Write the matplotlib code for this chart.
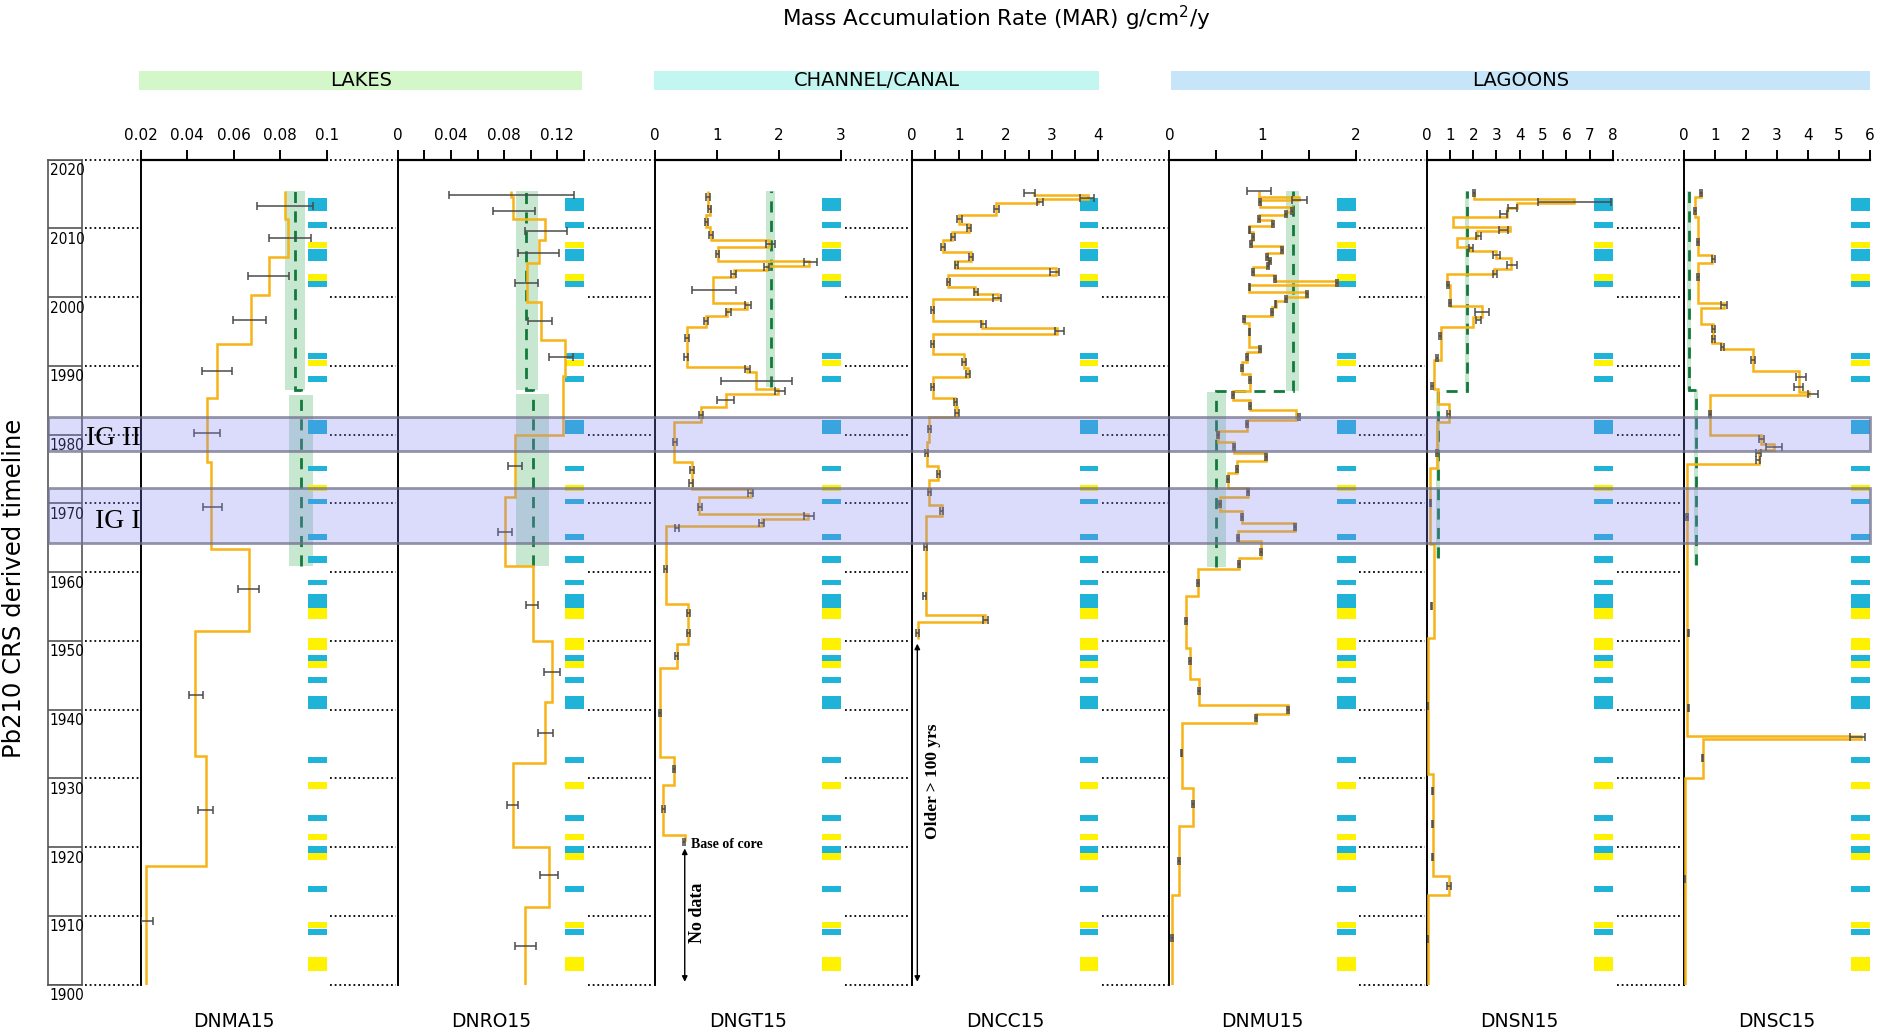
import numpy as np
import matplotlib.pyplot as plt
from matplotlib.patches import Rectangle
from matplotlib.lines import Line2D
from matplotlib.transforms import blended_transform_factory

# ---------------- data: years (vertical) and MAR in g/cm2/y (horizontal) ----------------
cores = ['DNMA15', 'DNRO15', 'DNGT15', 'DNCC15', 'DNMU15', 'DNSN15', 'DNSC15']
decades = [1900, 1910, 1920, 1930, 1940, 1950, 1960, 1970, 1980, 1990, 2000, 2010, 2020]

# step profiles: edges are years (top -> bottom), one MAR value per interval
dnma_edges = [2015.4, 2011.4, 2005.8, 2000.3, 1993.2, 1985.3, 1976.0, 1963.4, 1951.4, 1933.3, 1917.3, 1900.0]
dnma_mar = [0.0820, 0.0832, 0.0752, 0.0673, 0.0527, 0.0486, 0.0505, 0.0665, 0.0433, 0.0482, 0.0224]
dnma_err_year = [2013.2, 2008.6, 2003.1, 1996.7, 1989.3, 1980.3, 1969.5, 1957.5, 1942.1, 1925.4, 1909.2]
dnma_err_mar = [0.0822, 0.0843, 0.0750, 0.0670, 0.0528, 0.0486, 0.0510, 0.0665, 0.0437, 0.0480, 0.0228]
dnma_err = [0.0120, 0.0091, 0.0090, 0.0071, 0.0064, 0.0055, 0.0042, 0.0044, 0.0030, 0.0033, 0.0024]

dnro_edges = [2015.5, 2014.5, 2011.3, 2008.3, 2004.9, 1999.3, 1993.8, 1988.5, 1980.0, 1971.0, 1960.9,
              1950.0, 1941.1, 1932.3, 1920.0, 1911.3, 1900.0]
dnro_mar = [0.0850, 0.0867, 0.1110, 0.1060, 0.0974, 0.1075, 0.1256, 0.1240, 0.0880, 0.0807, 0.1014,
            0.1158, 0.1110, 0.0864, 0.1138, 0.0960]
dnro_err_year = [2014.9, 2012.6, 2009.6, 2006.4, 2002.0, 1996.5, 1991.3, 1975.5, 1965.9, 1955.2, 1945.4,
                 1936.6, 1926.1, 1915.9, 1905.6]
dnro_err_mar = [0.0856, 0.0876, 0.1115, 0.1060, 0.0968, 0.1070, 0.1227, 0.0880, 0.0807, 0.1008, 0.1158,
                0.1110, 0.0864, 0.1138, 0.0959]
dnro_err = [0.0473, 0.0160, 0.0156, 0.0153, 0.0086, 0.0090, 0.0090, 0.0053, 0.0050, 0.0045, 0.0060,
            0.0058, 0.0040, 0.0065, 0.0080]

dngt_edges = [2015.5, 2013.3, 2011.9, 2010.2, 2009.5, 2008.3, 2007.3, 2005.3, 2004.6, 2004.0, 2002.9,
              1999.1, 1998.3, 1997.3, 1995.6, 1989.9, 1989.1, 1986.7, 1985.9, 1984.0, 1981.8, 1976.0,
              1972.1, 1970.9, 1968.4, 1967.7, 1966.7, 1955.4, 1949.6, 1946.0, 1933.1, 1929.1, 1921.7, 1920.9]
dngt_mar = [0.86, 0.88, 0.83, 0.88, 0.90, 1.84, 1.01, 2.49, 1.80, 1.28, 0.94, 1.49, 1.16, 0.82, 0.52,
            1.49, 1.63, 1.99, 1.14, 0.74, 0.31, 0.60, 1.54, 0.71, 2.46, 1.72, 0.18, 0.54, 0.35, 0.08,
            0.31, 0.135, 0.48]
dngt_err_year = [2014.6, 2012.8, 2010.9, 2009.0, 2007.8, 2006.3, 2005.1, 2004.4, 2003.3, 2001.1, 1998.9,
                 1997.8, 1996.5, 1994.1, 1991.3, 1989.5, 1987.8, 1986.3, 1985.1, 1982.9, 1978.9, 1974.8,
                 1973.0, 1971.5, 1969.5, 1968.1, 1967.2, 1966.4, 1960.5, 1954.1, 1951.2, 1947.8, 1939.5,
                 1931.3, 1925.5, 1920.7]
dngt_err_mar = [0.86, 0.88, 0.83, 0.90, 1.86, 1.01, 2.51, 1.80, 1.26, 0.95, 1.50, 1.18, 0.82, 0.52, 0.50,
                1.49, 1.64, 2.02, 1.14, 0.74, 0.32, 0.60, 0.58, 1.54, 0.72, 2.49, 1.72, 0.36, 0.17, 0.54,
                0.54, 0.35, 0.08, 0.31, 0.135, 0.47]
dngt_err = [0.03, 0.03, 0.03, 0.03, 0.07, 0.03, 0.10, 0.04, 0.04, 0.35, 0.05, 0.04, 0.03, 0.03, 0.03,
            0.04, 0.57, 0.08, 0.14, 0.03, 0.03, 0.03, 0.03, 0.04, 0.03, 0.08, 0.04, 0.03, 0.02, 0.03,
            0.03, 0.02, 0.02, 0.02, 0.02, 0.02]

dncc_edges = [2015.3, 2014.8, 2014.3, 2013.7, 2012.0, 2010.7, 2009.5, 2008.3, 2006.6, 2005.3, 2004.3,
              2003.2, 2001.5, 2000.5, 1999.7, 1996.6, 1995.5, 1994.7, 1991.7, 1989.7, 1988.4, 1985.4,
              1984.0, 1982.5, 1978.9, 1975.5, 1973.4, 1969.7, 1968.2, 1953.7, 1952.7, 1950.2]
dncc_mar = [2.62, 3.78, 2.70, 1.80, 1.01, 1.22, 0.85, 0.66, 1.26, 0.93, 3.08, 0.77, 1.34, 1.84, 0.44,
            1.51, 3.12, 0.44, 1.11, 1.20, 0.44, 0.93, 0.97, 0.37, 0.31, 0.56, 0.37, 0.63, 0.29, 1.57, 0.12]
dncc_err_year = [2015.1, 2014.4, 2013.9, 2012.8, 2011.3, 2010.0, 2008.7, 2007.3, 2005.8, 2004.7, 2003.6,
                 2002.2, 2000.8, 1999.9, 1998.1, 1996.1, 1995.1, 1993.2, 1990.5, 1988.8, 1986.9, 1984.7,
                 1983.1, 1980.8, 1977.3, 1974.3, 1971.6, 1968.9, 1963.6, 1956.5, 1953.1, 1951.2]
dncc_err_mar = [2.52, 3.75, 2.75, 1.81, 1.01, 1.22, 0.87, 0.66, 1.26, 0.95, 3.06, 0.78, 1.37, 1.82, 0.44,
                1.53, 3.16, 0.44, 1.12, 1.20, 0.44, 0.93, 0.97, 0.38, 0.31, 0.56, 0.37, 0.63, 0.29, 0.27,
                1.57, 0.12]
dncc_err = [0.11, 0.15, 0.06, 0.06, 0.05, 0.05, 0.04, 0.04, 0.05, 0.04, 0.10, 0.04, 0.05, 0.08, 0.03,
            0.05, 0.10, 0.03, 0.04, 0.04, 0.03, 0.04, 0.04, 0.03, 0.03, 0.03, 0.03, 0.03, 0.03, 0.03,
            0.05, 0.03]

dnmu_edges = [2015.5, 2014.6, 2014.2, 2013.1, 2012.4, 2011.9, 2011.2, 2010.3, 2009.5, 2008.3, 2007.4,
              2006.4, 2005.6, 2005.1, 2004.4, 2003.2, 2002.4, 2001.8, 2000.7, 2000.0, 1999.5, 1998.5,
              1997.3, 1996.2, 1992.8, 1992.0, 1990.5, 1988.8, 1986.4, 1985.0, 1983.6, 1982.1, 1980.6,
              1979.0, 1977.3, 1976.2, 1974.4, 1972.3, 1970.9, 1968.9, 1967.2, 1966.0, 1964.5, 1962.1,
              1960.4, 1956.6, 1949.0, 1944.5, 1940.6, 1939.4, 1938.0, 1928.6, 1923.0, 1913.1, 1900.0]
dnmu_mar = [0.96, 1.39, 0.97, 1.32, 1.25, 0.96, 1.10, 0.86, 0.90, 0.88, 1.21, 1.05, 1.08, 1.06, 0.90,
            1.13, 1.80, 0.86, 1.48, 1.25, 1.14, 1.10, 0.80, 0.86, 0.97, 0.83, 0.78, 0.87, 0.68, 0.87,
            1.36, 0.83, 0.52, 0.69, 1.04, 0.73, 0.63, 0.84, 0.54, 0.78, 1.35, 0.74, 0.98, 0.75, 0.31,
            0.18, 0.22, 0.32, 1.27, 0.93, 0.13, 0.25, 0.105, 0.03]
dnmu_err_year = [2015.4, 2014.2, 2013.8, 2012.6, 2012.1, 2011.4, 2010.7, 2009.8, 2008.7, 2007.8, 2006.8,
                 2005.9, 2005.2, 2004.6, 2003.6, 2002.7, 2002.0, 2001.5, 2000.4, 1999.8, 1999.0, 1997.8,
                 1996.8, 1994.9, 1992.5, 1991.3, 1989.7, 1988.0, 1985.7, 1984.2, 1982.6, 1981.5, 1980.0,
                 1978.2, 1976.8, 1975.0, 1973.5, 1971.6, 1969.9, 1968.0, 1966.6, 1965.0, 1963.0, 1961.2,
                 1958.4, 1952.9, 1947.1, 1942.7, 1940.0, 1938.8, 1933.7, 1926.2, 1918.0, 1906.8]
dnmu_err_mar = [0.96, 1.40, 0.97, 1.32, 1.25, 0.96, 1.11, 0.86, 0.90, 0.88, 1.21, 1.05, 1.08, 1.06, 0.90,
                1.13, 1.80, 0.86, 1.48, 1.25, 1.14, 1.10, 0.80, 0.86, 0.97, 0.83, 0.78, 0.87, 0.68, 0.87,
                1.39, 0.83, 0.52, 0.69, 1.04, 0.73, 0.63, 0.84, 0.54, 0.78, 1.35, 0.74, 0.98, 0.75, 0.31,
                0.18, 0.22, 0.32, 1.27, 0.93, 0.13, 0.25, 0.105, 0.03]
dnmu_err = [0.13, 0.08, 0.01, 0.01, 0.01, 0.01, 0.01, 0.01, 0.01, 0.01, 0.01, 0.01, 0.01, 0.01, 0.01,
            0.01, 0.01, 0.01, 0.01, 0.01, 0.01, 0.01, 0.01, 0.01, 0.01, 0.01, 0.01, 0.01, 0.01, 0.01,
            0.01, 0.01, 0.01, 0.01, 0.01, 0.01, 0.01, 0.01, 0.01, 0.01, 0.01, 0.01, 0.01, 0.01, 0.01,
            0.01, 0.01, 0.01, 0.01, 0.01, 0.01, 0.01, 0.01, 0.01]

dnsn_edges = [2015.5, 2014.3, 2013.7, 2012.9, 2011.7, 2010.2, 2009.6, 2008.6, 2007.3, 2006.7, 2005.7,
              2004.1, 2003.3, 2001.7, 1998.7, 1997.1, 1995.7, 1990.8, 1986.7, 1984.4, 1981.8, 1975.2,
              1964.1, 1950.4, 1930.6, 1915.8, 1913.0, 1900.0]
dnsn_mar = [2.04, 6.35, 3.87, 3.47, 1.15, 3.57, 2.18, 1.29, 1.88, 2.98, 3.61, 2.88, 0.89, 0.99, 2.38,
            1.98, 0.60, 0.30, 0.50, 0.95, 0.44, 0.14, 0.30, 0.04, 0.26, 0.95, 0.04]
dnsn_err_year = [2015.2, 2013.9, 2013.0, 2012.1, 2009.8, 2008.9, 2007.1, 2006.1, 2004.7, 2003.4, 2001.8,
                 1999.2, 1997.8, 1996.7, 1994.3, 1991.1, 1987.1, 1983.0, 1977.3, 1970.0, 1955.1, 1940.5,
                 1928.2, 1923.4, 1918.5, 1914.4, 1906.7]
dnsn_err_mar = [2.04, 6.35, 3.70, 3.30, 3.30, 2.24, 1.92, 3.02, 3.67, 2.94, 0.91, 0.99, 2.38, 2.22, 0.56,
                0.44, 0.24, 0.95, 0.44, 0.16, 0.20, 0.04, 0.26, 0.26, 0.26, 0.95, 0.04]
dnsn_err = [0.05, 1.57, 0.20, 0.15, 0.20, 0.10, 0.08, 0.15, 0.20, 0.10, 0.05, 0.05, 0.30, 0.10, 0.05,
            0.04, 0.04, 0.06, 0.04, 0.03, 0.03, 0.03, 0.03, 0.03, 0.03, 0.08, 0.03]

dnsc_edges = [2015.5, 2014.5, 2011.7, 2006.1, 2004.9, 1999.1, 1998.4, 1996.1, 1994.3, 1993.4, 1992.5,
              1989.2, 1986.2, 1985.7, 1979.9, 1978.6, 1977.8, 1975.8, 1936.1, 1935.7, 1930.1, 1900.0]
dnsc_mar = [0.54, 0.35, 0.45, 0.92, 0.45, 1.30, 0.54, 0.95, 0.90, 1.20, 2.23, 3.71, 4.04, 0.84, 2.50,
            2.91, 2.41, 0.10, 5.70, 0.60, 0.02]
dnsc_err_year = [2015.1, 2012.5, 2008.0, 2005.5, 2003.0, 1998.8, 1995.3, 1993.9, 1992.8, 1990.8, 1988.4,
                 1987.0, 1985.9, 1983.0, 1979.3, 1978.2, 1977.3, 1976.3, 1968.0, 1951.2, 1940.2, 1936.0,
                 1933.0, 1915.3]
dnsc_err_mar = [0.54, 0.35, 0.45, 0.95, 0.45, 1.30, 0.95, 0.95, 1.25, 2.23, 3.77, 3.70, 4.16, 0.84, 2.50,
                2.91, 2.41, 2.40, 0.09, 0.15, 0.15, 5.60, 0.60, 0.02]
dnsc_err = [0.03, 0.03, 0.03, 0.06, 0.03, 0.10, 0.05, 0.05, 0.05, 0.06, 0.15, 0.15, 0.15, 0.04, 0.08,
            0.25, 0.08, 0.06, 0.03, 0.03, 0.03, 0.25, 0.03, 0.03]

# mean MAR of sub-periods (dashed green) with spread (green band)
green_top = {'DNMA15': [2015.4, 1985.7], 'DNRO15': [2015.4, 1985.9], 'DNGT15': [2015.5],
             'DNMU15': [2015.5, 1986.2], 'DNSN15': [2015.5, 1986.3], 'DNSC15': [2015.5, 1986.5]}
green_bot = {'DNMA15': [1986.5, 1960.9], 'DNRO15': [1986.5, 1960.9], 'DNGT15': [1986.9],
             'DNMU15': [1986.3, 1960.7], 'DNSN15': [1986.3, 1962.0], 'DNSC15': [1986.5, 1961.0]}
green_mean = {'DNMA15': [0.0863, 0.0890], 'DNRO15': [0.0968, 0.1014], 'DNGT15': [1.875],
              'DNMU15': [1.332, 0.503], 'DNSN15': [1.75, 0.50], 'DNSC15': [0.166, 0.39]}
green_lo = {'DNMA15': [0.0820, 0.0837], 'DNRO15': [0.0888, 0.0888], 'DNGT15': [1.795],
            'DNMU15': [1.256, 0.402], 'DNSN15': [1.66, 0.42], 'DNSC15': [0.11, 0.33]}
green_hi = {'DNMA15': [0.0905, 0.0943], 'DNRO15': [0.1052, 0.1140], 'DNGT15': [1.936],
            'DNMU15': [1.397, 0.603], 'DNSN15': [1.84, 0.58], 'DNSC15': [0.22, 0.45]}

# event markers shown at the right of every core (b = blue, y = yellow)
event_top = [2014.4, 2011.0, 2008.0, 2007.0, 2003.3, 2002.3, 1991.9, 1990.9, 1988.6, 1982.1, 1975.5,
             1972.7, 1970.7, 1965.5, 1962.3, 1958.9, 1956.8, 1954.8, 1950.4, 1947.9, 1947.1, 1944.7,
             1942.0, 1933.1, 1929.5, 1924.6, 1921.9, 1920.1, 1919.2, 1914.4, 1909.1, 1908.1, 1904.0]
event_bot = [2012.5, 2010.1, 2007.2, 2005.2, 2002.4, 2001.5, 1991.0, 1990.0, 1987.7, 1980.1, 1974.7,
             1971.8, 1969.9, 1964.7, 1961.4, 1958.1, 1954.8, 1953.2, 1948.7, 1947.1, 1946.1, 1943.9,
             1940.1, 1932.3, 1928.5, 1923.8, 1921.1, 1919.2, 1918.1, 1913.5, 1908.2, 1907.2, 1902.0]
event_kind = ['b', 'b', 'y', 'b', 'y', 'b', 'b', 'y', 'b', 'b', 'b', 'y', 'b', 'b', 'b', 'b', 'b', 'y',
              'y', 'b', 'y', 'b', 'b', 'b', 'y', 'b', 'y', 'b', 'y', 'b', 'y', 'b', 'y']

# IG periods
ig_names = ['IG II', 'IG I']
ig_top = [1982.6, 1972.2]
ig_bot = [1977.6, 1964.3]

xlims = {'DNMA15': (0.02, 0.1), 'DNRO15': (0, 0.14), 'DNGT15': (0, 3), 'DNCC15': (0, 4),
         'DNMU15': (0, 2), 'DNSN15': (0, 8), 'DNSC15': (0, 6)}
xticks = {'DNMA15': [0.02, 0.04, 0.06, 0.08, 0.1], 'DNRO15': [0, 0.02, 0.04, 0.06, 0.08, 0.1, 0.12, 0.14],
          'DNGT15': [0, 1, 2, 3], 'DNCC15': [0, 0.5, 1, 1.5, 2, 2.5, 3, 3.5, 4],
          'DNMU15': [0, 0.5, 1, 1.5, 2], 'DNSN15': [0, 1, 2, 3, 4, 5, 6, 7, 8],
          'DNSC15': [0, 1, 2, 3, 4, 5, 6]}
xticklabels = {'DNMA15': ['0.02', '0.04', '0.06', '0.08', '0.1'],
               'DNRO15': ['0', '', '0.04', '', '0.08', '', '0.12', ''],
               'DNGT15': ['0', '1', '2', '3'], 'DNCC15': ['0', '', '1', '', '2', '', '3', '', '4'],
               'DNMU15': ['0', '', '1', '', '2'], 'DNSN15': [str(i) for i in range(9)],
               'DNSC15': [str(i) for i in range(7)]}

profiles = {
    'DNMA15': (dnma_edges, dnma_mar, dnma_err_year, dnma_err_mar, dnma_err),
    'DNRO15': (dnro_edges, dnro_mar, dnro_err_year, dnro_err_mar, dnro_err),
    'DNGT15': (dngt_edges, dngt_mar, dngt_err_year, dngt_err_mar, dngt_err),
    'DNCC15': (dncc_edges, dncc_mar, dncc_err_year, dncc_err_mar, dncc_err),
    'DNMU15': (dnmu_edges, dnmu_mar, dnmu_err_year, dnmu_err_mar, dnmu_err),
    'DNSN15': (dnsn_edges, dnsn_mar, dnsn_err_year, dnsn_err_mar, dnsn_err),
    'DNSC15': (dnsc_edges, dnsc_mar, dnsc_err_year, dnsc_err_mar, dnsc_err),
}

# ---------------- layout ----------------
W, H = 1568.0, 862.0          # layout units (reference scaled)
def fx(px):
    return px / W
def fy(py):
    return 1 - py / H

ORANGE = '#f6b416'
BLUE = '#1fb3d7'
YELLOW = '#fff200'
GREEN_BAND = '#bfe3c9'
GREEN_LINE = '#137a3c'
SERIF = ['Liberation Serif', 'DejaVu Serif']

plt.rcParams['font.family'] = 'DejaVu Sans'
fig = plt.figure(figsize=(18.83, 10.35), dpi=100)

ax_bottom, ax_top = fy(820), fy(133)
panel_left = [117 + 214.2 * i for i in range(7)]
panel_w = 155

axes = []
for i, name in enumerate(cores):
    ax = fig.add_axes([fx(panel_left[i]), ax_bottom, fx(panel_w), ax_top - ax_bottom])
    ax.patch.set_visible(False)
    ax.set_xlim(*xlims[name])
    ax.set_ylim(1900, 2020)
    ax.set_yticks([])
    ax.xaxis.tick_top()
    ax.set_xticks(xticks[name])
    ax.set_xticklabels(xticklabels[name])
    ax.tick_params(axis='x', direction='out', length=7, width=1.4, pad=5, labelsize=11)
    for s in ['right', 'bottom']:
        ax.spines[s].set_visible(False)
    ax.spines['top'].set_linewidth(1.6)
    ax.spines['left'].set_linewidth(1.4)

    # event markers
    for t, b, k in zip(event_top, event_bot, event_kind):
        ax.add_patch(Rectangle((0.9, b), 0.1, t - b, transform=ax.get_yaxis_transform(),
                               facecolor=BLUE if k == 'b' else YELLOW, edgecolor='none', zorder=2))

    # green sub-period means
    if name in green_mean:
        for t, b, lo, hi in zip(green_top[name], green_bot[name], green_lo[name], green_hi[name]):
            ax.add_patch(Rectangle((lo, b), hi - lo, t - b, facecolor=GREEN_BAND,
                                   edgecolor='none', alpha=0.85, zorder=1))
        g_edges = np.array([green_top[name][0]] + green_bot[name])
        ax.stairs(np.array(green_mean[name])[::-1], g_edges[::-1], orientation='horizontal',
                  baseline=None, color=GREEN_LINE, linewidth=2.0, linestyle=(0, (4, 3)), zorder=3)

    edges, mar, ey, em, ee = profiles[name]
    ax.stairs(np.array(mar)[::-1], np.array(edges)[::-1], orientation='horizontal',
              baseline=None, color=ORANGE, linewidth=1.8, zorder=4)
    ax.errorbar(em, ey, xerr=ee, fmt='none', ecolor='#4b4b4b', elinewidth=1.1,
                capsize=3, capthick=1.1, zorder=5)

    fig.text(fx(panel_left[i] + panel_w / 2), fy(851), name, ha='center', va='center', fontsize=13.5)
    axes.append(ax)

# timeline column
axy = fig.add_axes([fx(40), ax_bottom, fx(28), ax_top - ax_bottom])
axy.set_xlim(0, 1)
axy.set_ylim(1900, 2020)
axy.set_xticks([])
axy.set_yticks([])
for s in axy.spines.values():
    s.set_color('#555555')
    s.set_linewidth(1.2)
for yr in decades:
    axy.axhline(yr, color='#555555', lw=1.2)
    axy.text(0.05, yr - 0.5, str(yr), ha='left', va='top', fontsize=11,
             fontstretch='condensed', clip_on=False)

blend = blended_transform_factory(fig.transFigure, axy.transData)

# dotted decade lines between the panels
gaps = [(68, panel_left[0])] + [(panel_left[i] + panel_w, panel_left[i + 1]) for i in range(6)]
for yr in decades:
    for a, b in gaps:
        fig.add_artist(Line2D([fx(a) + 0.002, fx(b) - 0.001], [yr, yr], transform=blend,
                              color='black', lw=1.3, linestyle=(0, (1, 1.6))))

# IG bands across the whole figure
for name, t, b in zip(ig_names, ig_top, ig_bot):
    fig.add_artist(Rectangle((fx(40), b), fx(1557) - fx(40), t - b, transform=blend,
                             facecolor=(0.5, 0.5, 0.95, 0.28), edgecolor=(0.45, 0.45, 0.55, 0.75),
                             lw=2, zorder=6))
fig.text(fx(72), 1979.4, ig_names[0], transform=blend, ha='left', va='center',
         fontsize=20, family=SERIF, zorder=7)
fig.text(fx(79), 1967.4, ig_names[1], transform=blend, ha='left', va='center',
         fontsize=20, family=SERIF, zorder=7)

# annotations on the channel cores
ax_gt, ax_cc = axes[2], axes[3]
ax_gt.annotate('', xy=(0.48, 1900), xytext=(0.48, 1920.2),
               arrowprops=dict(arrowstyle='<|-|>', color='black', lw=1, mutation_scale=8))
ax_gt.text(0.58, 1920.4, 'Base of core', ha='left', va='center', fontsize=10,
           family=SERIF, fontweight='bold')
ax_gt.text(0.68, 1910.5, 'No data', ha='center', va='center', rotation=90, fontsize=13,
           family=SERIF, fontweight='bold')
ax_cc.annotate('', xy=(0.11, 1900), xytext=(0.11, 1950),
               arrowprops=dict(arrowstyle='<|-|>', color='black', lw=1, mutation_scale=8))
ax_cc.text(0.45, 1929.6, 'Older > 100 yrs', ha='center', va='center', rotation=90, fontsize=12.5,
           family=SERIF, fontweight='bold')

# environment banners
banners = [('LAKES', 116, 485, '#d4f7c9'), ('CHANNEL/CANAL', 545, 915, '#c4f6f1'),
           ('LAGOONS', 975, 1557, '#c6e5f8')]
for label, x0, x1, col in banners:
    fig.add_artist(Rectangle((fx(x0), fy(75)), fx(x1) - fx(x0), fy(59) - fy(75),
                             transform=fig.transFigure, facecolor=col, edgecolor='none'))
    fig.text(fx((x0 + x1) / 2), fy(67), label, ha='center', va='center', fontsize=14)

fig.text(fx(830), fy(15), 'Mass Accumulation Rate (MAR) g/cm$^2$/y', ha='center', va='center',
         fontsize=15.5)
fig.text(fx(12), fy(490), 'Pb210 CRS derived timeline', rotation=90, ha='center', va='center',
         fontsize=17.5)

fig.savefig('out.png', dpi=100)
